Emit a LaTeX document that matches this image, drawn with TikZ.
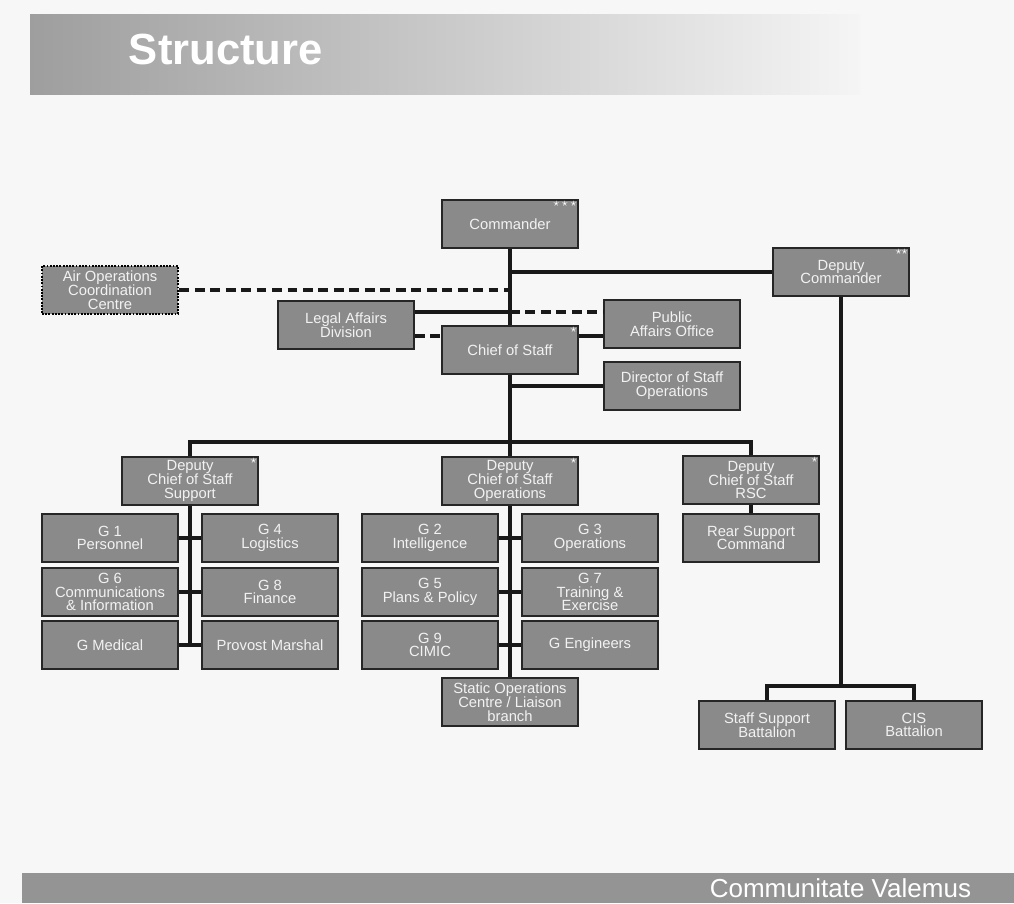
\documentclass[tikz,border=0pt]{standalone}
\usepackage{fontspec}
\setmainfont{Liberation Sans}
\usepackage{tikz}

\begin{document}
\begin{tikzpicture}[x=0.025cm, y=-0.025cm,
  unit/.style={draw=black!85, line width=1.3pt, fill=black!46, text=white!95!black,
    minimum width=3.4cm, minimum height=1.2cm, inner sep=1pt, align=center,
    font=\fontsize{10.5}{9.8}\selectfont},
  linkline/.style={line width=2.2pt, black!90},
  staffline/.style={linkline, dash pattern=on 7pt off 4pt},
  starmark/.style={anchor=north east, text=white, inner sep=1.5pt, font=\footnotesize}]

\useasboundingbox[fill=black!3] (0,0) rectangle (1014,903);

% title and footer
\shade[left color=black!38, right color=black!4] (30,14) rectangle (860,94);
\node[name=title, anchor=west, text=white, font=\fontsize{31}{31}\selectfont\bfseries] at (124,49) {Structure};
\fill[black!42] (22,873) rectangle (1014,903);
\node[name=motto, anchor=east, text=white, font=\fontsize{18.5}{18.5}\selectfont] at (976,888) {Communitate Valemus};

% command group
\node[name=commander, unit] at (510,224) {Commander};
\node[name=dep_cmd, unit] at (841,272) {Deputy\\Commander};
\node[name=air_ops, unit, draw=black, densely dotted, line width=1.8pt] at (110,290) {Air Operations\\Coordination\\Centre};
\node[name=legal, unit] at (346,325) {Legal Affairs\\Division};
\node[name=cos, unit] at (510,350) {Chief of Staff};
\node[name=pao, unit] at (672,324) {Public\\Affairs Office};
\node[name=dso, unit] at (672,386) {Director of Staff\\Operations};

\node[name=commander_stars, starmark] at (commander.north east) {$\star\star\star$};
\node[name=dep_cmd_stars, starmark] at (dep_cmd.north east) {$\star\star$};
\node[name=cos_star, starmark] at (cos.north east) {$\star$};

% deputy chiefs
\node[name=dcos_sup, unit] at (190,481) {Deputy\\Chief of Staff\\Support};
\node[name=dcos_ops, unit] at (510,481) {Deputy\\Chief of Staff\\Operations};
\node[name=dcos_rsc, unit] at (751,480) {Deputy\\Chief of Staff\\RSC};
\node[name=dcos_sup_star, starmark] at (dcos_sup.north east) {$\star$};
\node[name=dcos_ops_star, starmark] at (dcos_ops.north east) {$\star$};
\node[name=dcos_rsc_star, starmark] at (dcos_rsc.north east) {$\star$};

% support branches
\node[name=g_1, unit] at (110,538) {G 1\\Personnel};
\node[name=g_4, unit] at (270,538) {G 4\\Logistics};
\node[name=g_6, unit] at (110,592) {G 6\\Communications\\\& Information};
\node[name=g_8, unit] at (270,592) {G 8\\Finance};
\node[name=g_med, unit] at (110,645) {G Medical};
\node[name=provost, unit] at (270,645) {Provost Marshal};

% operations branches
\node[name=g_2, unit] at (430,538) {G 2\\Intelligence};
\node[name=g_3, unit] at (590,538) {G 3\\Operations};
\node[name=g_5, unit] at (430,592) {G 5\\Plans \& Policy};
\node[name=g_7, unit] at (590,592) {G 7\\Training \&\\Exercise};
\node[name=g_9, unit] at (430,645) {G 9\\CIMIC};
\node[name=g_eng, unit] at (590,645) {G Engineers};
\node[name=static_ops, unit] at (510,702) {Static Operations\\Centre / Liaison\\branch};

% rear support and battalions
\node[name=rear_sup, unit] at (751,538) {Rear Support\\Command};
\node[name=staff_bn, unit] at (767,725) {Staff Support\\Battalion};
\node[name=cis_bn, unit] at (914,725) {CIS\\Battalion};

\coordinate (j_legal) at (510,312);
\coordinate (j_cos) at (510,336);
\coordinate (dcos_bus) at (510,442);
\coordinate (bn_bus) at (841,686);

\draw[linkline] (commander.south) -- (cos.north);
\draw[linkline] (dep_cmd.west) -- (dep_cmd.west -| commander.south);
\draw[staffline] (air_ops.east) -- (air_ops.east -| commander.south);
\draw[linkline] (j_legal -| legal.east) -- (j_legal);
\draw[staffline] (j_legal) -- (j_legal -| pao.west);
\draw[staffline] (j_cos -| legal.east) -- (j_cos -| cos.west);
\draw[linkline] (j_cos -| cos.east) -- (j_cos -| pao.west);
\draw[linkline] (dso.west) -- (dso.west -| cos.south);

\draw[linkline] (cos.south) -- (dcos_ops.north);
\draw[linkline] (dcos_sup.north) |- (dcos_bus) -| (dcos_rsc.north);

\draw[linkline] (dcos_sup.south) -- (dcos_sup.south |- g_med.east);
\draw[linkline] (g_1.east) -- (g_4.west);
\draw[linkline] (g_6.east) -- (g_8.west);
\draw[linkline] (g_med.east) -- (provost.west);

\draw[linkline] (dcos_ops.south) -- (static_ops.north);
\draw[linkline] (g_2.east) -- (g_3.west);
\draw[linkline] (g_5.east) -- (g_7.west);
\draw[linkline] (g_9.east) -- (g_eng.west);

\draw[linkline] (dcos_rsc.south) -- (rear_sup.north);
\draw[linkline] (dep_cmd.south) -- (bn_bus);
\draw[linkline] (staff_bn.north) |- (bn_bus) -| (cis_bn.north);

\end{tikzpicture}
\end{document}
